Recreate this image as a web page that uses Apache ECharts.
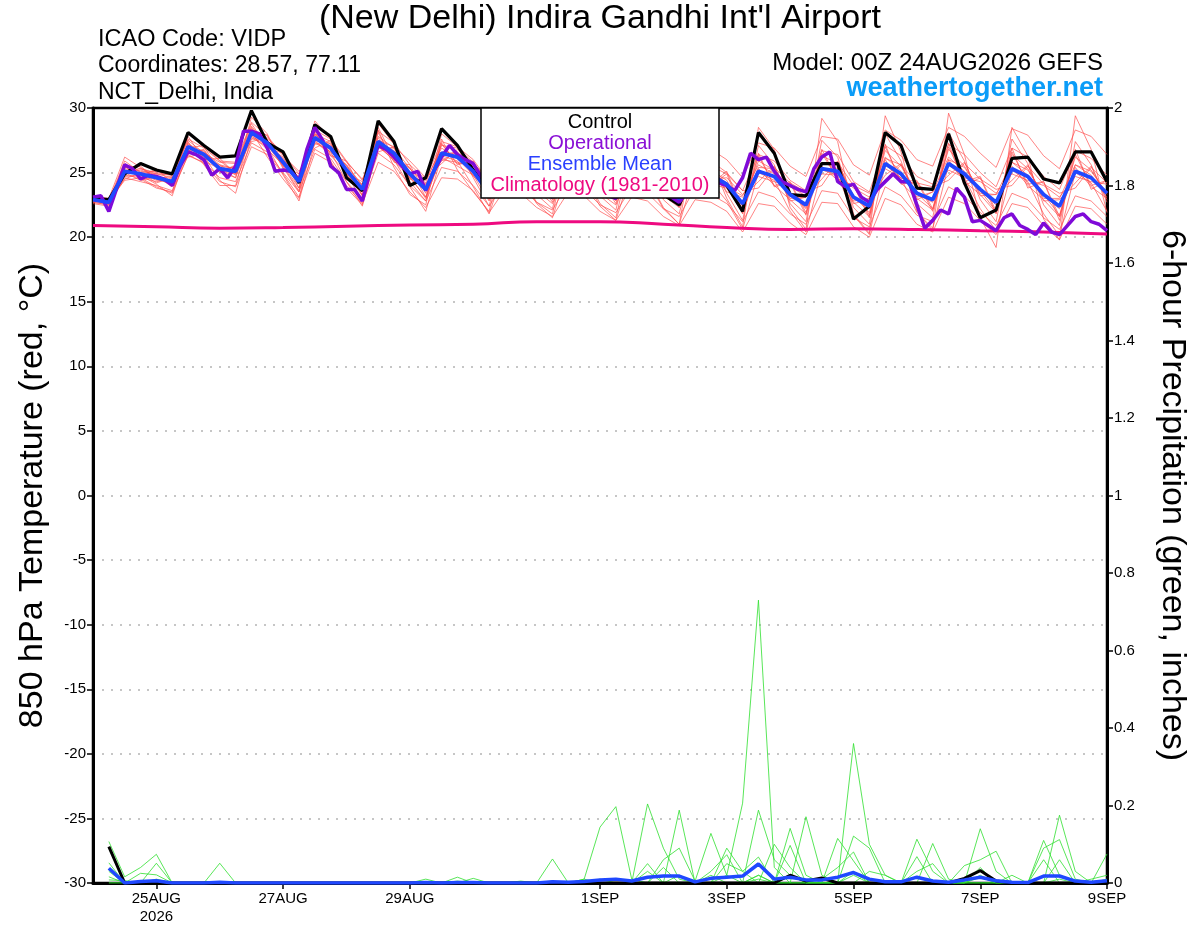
<!DOCTYPE html>
<html>
<head>
<meta charset="utf-8">
<script src="https://cdn.jsdelivr.net/npm/echarts@6/dist/echarts.min.js"></script>
<style>
html,body{margin:0;padding:0;background:#fff;}
#chart{width:1200px;height:927px;}
</style>
</head>
<body>
<div id="chart"></div>
<script>
// ---------- DATA ----------
const tickHours = [24, 72, 120, 192, 240, 288, 336, 384];
const tickLabels = ['25AUG\n2026', '27AUG', '29AUG', '1SEP', '3SEP', '5SEP', '7SEP', '9SEP'];

// 850 hPa temperature, 6-hourly from 24AUG 00Z
const controlTemp = [
23.0,22.9,24.9,25.7,25.2,24.9,28.1,27.1,26.2,26.3,
29.8,27.3,26.6,24.2,28.7,27.8,24.6,23.6,29.0,27.4,
24.0,24.6,28.4,27.1,25.2,23.6,25.8,25.0,23.8,23.2,
25.9,25.2,23.7,23.0,25.6,24.6,23.3,22.5,25.3,24.7,
24.0,22.0,28.1,26.5,23.3,23.2,25.7,25.7,21.4,22.4,
28.1,27.1,23.8,23.7,28.0,24.2,21.5,22.1,26.1,26.2,
24.5,24.2,26.6,26.6,24.3];
const meanTemp = [
22.9,22.7,25.1,24.9,24.6,24.3,27.0,26.4,25.3,25.1,
28.1,27.3,25.8,24.3,27.7,26.9,25.2,23.7,27.4,26.5,
24.9,23.7,26.5,26.2,25.1,23.4,25.5,25.0,23.9,23.3,
25.6,25.0,23.8,23.2,25.4,24.8,23.6,23.0,25.2,24.8,
24.1,22.6,25.1,24.7,23.3,22.5,25.3,25.1,23.1,22.4,
25.7,24.9,23.4,22.9,25.7,24.9,23.7,22.7,25.3,24.7,
23.3,22.4,25.1,24.6,23.4];
// operational run, 3-hourly
const operTemp = [
23.1,23.2,22.0,23.8,25.6,25.3,24.5,24.8,24.7,24.5,
24.0,25.5,26.6,26.4,26.0,24.8,25.3,24.6,25.5,28.2,
28.2,28.0,26.9,25.1,25.2,25.1,24.4,26.8,28.5,27.5,
25.5,25.0,23.7,23.7,22.8,25.1,27.1,26.8,26.2,25.5,
24.9,25.1,23.6,25.1,26.2,27.1,26.4,26.0,25.7,24.7,
24.5,25.2,26.0,25.6,25.0,24.4,23.8,23.4,23.1,24.0,
25.3,25.8,25.2,24.5,23.8,23.2,23.0,24.0,25.4,25.6,
25.0,24.3,23.6,23.1,22.7,23.5,24.6,25.0,24.6,24.2,
24.0,23.6,24.6,26.5,26.0,26.2,25.1,24.3,24.0,23.7,
23.5,25.3,26.2,26.6,24.3,23.9,24.1,23.1,22.7,23.7,
24.3,24.9,24.3,24.3,22.5,20.7,21.3,22.1,21.8,23.8,
23.1,21.2,21.3,20.9,20.5,21.5,21.8,20.9,20.6,20.2,
21.1,20.4,20.2,20.9,21.6,21.8,21.2,21.0,20.5];
// climatology, daily
const climTemp = [20.9,20.8,20.7,20.75,20.85,20.95,21.0,21.2,21.2,21.0,20.75,20.6,20.65,20.6,20.5,20.4,20.25];

// ensemble members, 6-hourly
const mem01 = [23.1,22.9,25.6,25.3,25.0,24.8,27.6,26.9,25.9,25.8,28.9,27.8,26.4,24.9,28.3,27.6,25.9,24.4,28.2,27.3,25.6,24.5,27.4,27.0,26.0,24.3,26.6,26.0,24.8,24.1,26.7,26.1,24.8,24.0,26.5,25.9,24.6,23.9,26.4,25.9,25.0,23.6,26.4,25.9,24.4,23.6,26.7,26.4,24.3,23.5,27.1,26.3,24.7,24.1,27.2,26.4,25.0,23.9,26.9,26.2,24.7,23.7,26.7,26.1,24.8];
const mem02 = [22.7,22.5,24.6,24.3,24.0,23.6,26.3,25.8,24.6,24.3,27.3,26.6,25.0,23.5,26.8,26.1,24.3,22.9,26.5,25.6,24.0,22.8,25.4,25.1,24.0,22.4,24.3,23.9,22.7,22.1,24.2,23.7,22.5,21.9,23.9,23.4,22.2,21.6,23.8,23.3,22.6,21.2,23.5,23.1,21.8,21.0,23.6,23.4,21.5,20.8,23.9,23.2,21.7,21.2,23.9,23.2,21.9,20.9,23.4,22.9,21.5,20.6,23.2,22.8,21.6];
const mem03 = [23.0,22.8,25.9,25.0,24.2,24.6,26.5,26.8,25.0,25.6,28.8,27.0,26.2,23.8,28.6,26.4,25.6,23.2,28.5,26.0,25.4,23.1,27.2,25.7,25.8,22.9,26.8,24.4,24.6,22.7,26.9,24.3,24.5,22.6,26.6,24.1,24.3,22.3,26.4,24.0,24.9,21.8,26.5,23.9,24.2,21.7,26.8,24.4,24.0,21.5,27.2,24.1,24.3,22.0,27.3,24.0,24.6,21.8,26.9,23.8,24.3,21.3,26.8,23.7,24.4];
const mem04 = [22.8,22.6,24.9,25.2,24.8,24.0,27.3,26.1,25.6,24.8,27.6,27.6,25.3,24.7,27.2,27.3,24.8,24.1,26.9,26.9,24.5,24.1,25.9,26.6,24.7,23.8,24.8,25.6,23.4,23.8,24.9,25.7,23.3,23.7,24.6,25.5,23.0,23.6,24.4,25.6,23.5,23.1,24.3,25.5,22.8,23.1,24.5,25.9,22.6,22.9,24.8,25.7,22.9,23.5,24.8,25.8,23.2,23.3,24.4,25.6,22.8,22.9,24.2,25.5,22.9];
const mem05 = [23.2,23.0,26.2,25.4,24.5,24.1,28.0,27.0,25.1,24.6,29.3,28.0,25.5,23.6,29.0,27.6,24.8,22.9,28.8,27.2,24.3,22.8,28.0,27.0,24.6,22.4,27.2,26.0,23.3,22.2,27.4,26.2,23.2,22.1,27.2,25.8,22.9,21.8,27.0,25.7,23.4,21.3,27.1,25.6,22.6,21.2,27.5,26.2,22.3,21.0,28.0,25.9,22.6,21.5,28.1,25.9,22.9,21.2,27.6,25.7,22.5,20.9,27.4,25.6,22.7];
const mem06 = [22.9,22.8,24.4,24.6,24.3,24.5,26.6,26.2,25.5,25.3,27.8,27.1,26.1,24.6,27.4,26.6,25.6,24.0,27.0,26.2,25.3,24.1,26.0,25.8,25.5,23.9,25.0,24.6,24.3,23.9,25.1,24.6,24.2,23.8,24.9,24.4,24.1,23.7,24.8,24.5,24.6,23.3,24.7,24.3,23.9,23.2,24.9,24.8,23.8,23.1,25.3,24.6,24.0,23.6,25.2,24.6,24.3,23.4,24.9,24.4,24.0,23.1,24.7,24.3,24.1];
const mem07 = [22.6,22.4,24.8,24.6,23.9,23.4,26.4,25.7,24.3,23.9,27.0,26.4,24.9,23.1,26.5,25.8,24.0,22.6,25.8,25.1,23.5,22.3,24.6,24.5,23.6,21.9,23.7,23.4,22.3,21.6,23.5,23.2,22.0,21.3,23.1,22.8,21.6,20.9,22.9,22.7,22.0,20.4,22.6,22.4,21.1,20.2,22.7,22.6,20.8,20.0,23.0,22.5,21.0,20.4,23.1,22.6,21.3,20.2,22.6,22.3,20.9,19.8,22.4,22.2,21.0];
const mem08 = [23.0,22.8,25.3,25.1,24.9,24.6,27.2,26.6,25.6,25.3,28.4,27.5,26.0,24.5,27.9,27.2,25.5,24.0,27.8,26.9,25.3,24.2,27.1,26.9,25.8,24.2,26.6,26.3,25.1,24.6,27.0,26.5,25.3,24.7,27.1,26.5,25.3,24.8,27.2,26.8,26.0,24.6,27.3,26.9,25.5,24.7,27.8,27.6,25.6,24.8,28.3,27.5,26.0,25.5,28.5,27.8,26.5,25.4,28.4,27.9,26.3,25.3,28.3,27.8,26.4];
const mem09 = [22.8,22.7,25.0,24.4,24.7,23.9,26.8,25.9,25.3,24.6,27.9,26.8,25.6,23.8,27.5,26.3,25.0,23.2,27.1,25.9,24.6,23.1,26.2,25.5,24.8,22.8,25.3,24.2,23.6,22.6,25.4,24.3,23.4,22.5,25.2,24.0,23.2,22.3,25.0,24.1,23.8,21.9,25.3,24.0,22.9,21.8,25.5,24.4,22.7,21.6,26.0,24.2,23.0,22.1,26.0,24.3,23.3,21.9,25.5,24.0,22.9,21.6,25.4,23.9,23.0];
const mem10 = [23.1,22.9,25.4,25.5,24.5,24.7,27.5,26.5,25.1,25.5,28.6,27.1,25.5,24.9,28.0,26.8,24.9,24.3,27.7,26.4,24.6,24.4,26.9,26.1,24.8,24.0,26.0,25.0,23.7,23.9,26.1,25.0,23.5,23.8,25.8,24.9,23.3,23.6,25.7,24.9,23.9,23.2,25.6,24.9,23.0,23.1,25.8,25.3,22.8,23.0,26.2,25.1,23.1,23.5,26.2,25.1,23.4,23.3,25.8,24.8,23.0,23.0,25.6,24.8,23.1];
const mem11 = [22.7,22.5,24.7,24.8,24.1,23.2,26.9,26.3,24.4,23.4,27.7,27.0,24.8,22.8,27.3,26.6,24.3,22.4,27.0,26.0,23.9,22.0,26.3,25.9,23.9,21.8,25.4,24.7,22.6,21.5,25.5,24.6,22.4,21.3,25.2,24.4,22.2,21.0,25.1,24.3,22.8,20.6,25.0,24.4,22.0,20.4,25.2,24.8,21.7,20.2,25.6,24.6,21.9,20.7,25.6,24.6,22.2,20.5,25.2,24.3,21.8,20.1,25.0,24.2,22.0];
const mem12 = [23.0,22.7,25.7,24.7,25.3,24.2,27.8,26.0,26.1,24.9,28.5,26.9,26.5,24.1,28.4,26.3,25.9,23.5,28.1,25.8,25.6,23.4,27.3,25.6,25.9,23.1,26.5,24.5,24.9,22.9,26.6,24.4,24.8,22.8,26.3,24.2,24.5,22.5,26.1,24.1,25.1,22.0,26.3,24.0,24.3,21.9,26.5,24.5,24.0,21.7,27.0,24.3,24.4,22.2,27.0,24.3,24.7,22.0,26.6,24.1,24.3,21.6,26.4,24.0,24.4];
const mem13 = [22.9,22.6,25.2,24.9,24.4,24.4,26.7,26.7,25.2,24.9,27.9,27.5,25.7,24.2,27.5,27.1,25.1,23.6,27.3,26.7,24.8,23.6,26.6,26.4,25.0,23.3,25.9,25.4,23.8,23.2,26.2,25.4,23.7,23.1,26.0,25.2,23.5,22.9,25.9,25.1,24.2,22.4,25.9,25.2,23.3,22.3,26.3,25.7,23.0,22.2,26.7,25.5,23.3,22.7,26.8,25.5,23.6,22.5,26.4,25.3,23.2,22.2,26.2,25.2,23.3];
const mem14 = [22.8,22.8,24.5,25.0,25.1,24.9,26.2,26.5,25.8,25.7,27.4,27.7,26.3,25.1,26.9,27.5,25.8,24.5,26.6,27.0,25.9,24.6,25.7,26.8,25.7,24.5,25.1,25.8,24.8,24.3,24.8,25.6,24.6,24.2,24.2,25.4,24.4,24.0,23.9,25.5,24.9,23.6,23.8,25.4,24.2,23.5,24.0,25.8,24.0,23.4,24.4,25.6,24.2,23.9,24.4,25.7,24.5,23.7,24.0,25.5,24.1,23.4,23.8,25.4,24.2];
const mem15 = [23.0,22.6,25.5,24.5,23.8,23.5,27.4,25.6,24.0,24.0,28.2,26.2,24.5,23.0,28.2,25.9,23.8,22.5,28.3,25.4,23.3,22.5,27.6,25.2,23.5,22.0,26.9,24.8,22.7,21.8,27.0,24.9,22.6,21.5,26.8,24.6,22.3,21.0,27.8,26.0,23.0,20.8,28.5,26.8,22.3,20.6,29.2,27.4,21.8,20.3,29.4,26.6,22.0,20.5,29.6,26.4,21.5,19.2,28.5,26.3,21.4,19.8,29.4,26.8,21.9];
const mem16 = [22.8,22.6,25.0,25.3,24.9,24.8,26.9,27.1,25.9,25.0,28.3,27.9,25.4,23.5,28.0,27.4,25.0,23.3,27.5,27.0,24.7,23.0,26.4,26.6,25.3,23.5,25.6,25.6,24.2,23.4,25.7,25.5,24.0,23.1,25.5,25.3,23.8,22.7,25.3,25.2,24.4,22.4,25.4,25.3,23.5,22.2,25.7,25.8,23.2,21.9,26.1,25.6,23.4,22.2,26.0,25.4,23.6,22.0,25.8,25.2,23.3,21.7,25.6,25.1,23.4];
const memberTemps = [mem01,mem02,mem03,mem04,mem05,mem06,mem07,mem08,mem09,mem10,mem11,mem12,mem13,mem14,mem15,mem16];

// 6-hour precipitation (inches), 6-hourly from 24AUG 06Z
const controlPrcp = [
0.094,0,0,0,0,0,0,0, 0,0,0,0,0,0,0,0, 0,0,0,0,0,0,0,0, 0,0,0,0,0,0,0,0,
0,0,0,0,0,0,0,0, 0,0,0,0.02,0.005,0.013,0,0, 0,0,0,0,0,0,0.012,0.032, 0.005,0,0,0,0,0,0,0];
const meanPrcp = [
0.038,0,0.004,0.006,0,0,0,0.002, 0,0,0,0,0,0,0,0, 0,0,0,0,0.001,0,0.001,0.001, 0,0,0,0,0.003,0.002,0.004,0.008,
0.01,0.005,0.015,0.018,0.018,0.003,0.012,0.015, 0.018,0.049,0.01,0.015,0.008,0.008,0.015,0.027, 0.01,0.003,0.003,0.015,0.005,0.002,0.008,0.015, 0.006,0.002,0.001,0.018,0.018,0.005,0.002,0.006];
const prc01 = [0.107,0.016,0.04,0.074,0,0,0,0, 0,0,0,0,0,0,0,0, 0,0,0,0,0,0,0,0, 0,0,0,0,0,0,0.01,0.144, 0.197,0.01,0,0,0,0,0,0, 0,0.01,0,0,0,0,0,0.02, 0,0,0,0,0,0,0,0.02, 0,0,0,0,0,0,0,0];
const prc02 = [0.052,0,0,0.051,0,0,0,0.051, 0,0,0,0,0,0,0,0, 0,0,0,0,0,0,0,0, 0,0,0,0,0.062,0,0,0, 0,0,0.204,0.09,0.01,0,0,0.02, 0.206,0.73,0.04,0,0,0,0,0.03, 0,0,0,0,0,0,0,0, 0,0,0,0,0.01,0,0,0];
const prc03 = [0.016,0,0.025,0.021,0,0,0,0, 0,0,0,0,0,0,0,0, 0,0,0,0,0,0,0.015,0, 0,0,0,0,0,0,0,0, 0,0,0,0,0.188,0,0.02,0, 0,0.188,0.06,0.02,0,0,0,0.36, 0.10,0.02,0,0,0,0,0,0.14, 0.03,0,0,0,0,0,0,0];
const prc04 = [0.008,0.006,0,0.01,0,0,0,0, 0,0,0,0,0,0,0,0, 0,0,0,0,0.01,0,0,0.012, 0,0,0,0,0,0,0,0, 0,0,0,0.06,0.09,0.005,0.128,0.02, 0,0,0,0,0.171,0.02,0,0, 0,0,0,0.113,0.03,0,0,0, 0,0,0,0,0.175,0.03,0,0];
const prc05 = [0.09,0,0,0,0,0,0,0, 0,0,0,0,0,0,0,0, 0,0,0,0,0,0,0,0, 0,0,0.005,0,0,0,0.01,0, 0,0,0.05,0,0,0,0,0.09, 0.03,0.067,0,0.141,0.02,0,0,0.121, 0.09,0,0,0,0.102,0.01,0,0, 0,0,0,0.11,0.02,0,0,0];
const prc06 = [0.03,0,0,0.005,0,0,0,0, 0,0,0,0,0,0,0,0, 0,0,0,0,0,0,0,0, 0,0,0,0,0,0,0,0.01, 0,0,0,0.04,0,0,0.03,0.073, 0,0.02,0,0.097,0,0,0.115,0.057, 0,0,0,0,0,0,0.045,0.06, 0.082,0,0,0.09,0.112,0.01,0,0.075];
const prc07 = [0,0,0,0,0,0,0,0, 0,0,0,0,0,0,0,0, 0,0,0,0,0,0,0.005,0, 0,0,0,0,0.005,0,0,0, 0,0,0,0,0,0,0,0.05, 0.03,0,0.1,0.04,0,0,0,0, 0.03,0.02,0,0.068,0,0,0,0.04, 0,0.02,0,0.06,0,0,0.01,0.02];
const prc08 = [0,0,0,0,0,0,0,0, 0,0,0,0,0,0,0,0, 0,0,0,0,0,0,0,0, 0,0,0,0,0,0,0,0, 0,0,0.03,0,0.02,0,0,0, 0,0.02,0,0,0,0.01,0.04,0.08, 0,0,0,0.03,0.05,0,0,0.015, 0,0,0,0,0.06,0,0,0.01];
const memberPrcp = [prc01,prc02,prc03,prc04,prc05,prc06,prc07,prc08];

// ---------- BUILD ----------
const FONT = '"Liberation Sans", Arial, Helvetica, sans-serif';
const pairs = (vals, step, offset) => vals.map((v, i) => [offset + i * step, v]);

const series = [];
memberTemps.forEach((m, k) => series.push({
  name: 'member' + (k + 1), type: 'line', data: pairs(m, 6, 0),
  xAxisIndex: 0, yAxisIndex: 0, symbol: 'none', silent: true,
  lineStyle: { color: '#ff4a4a', width: 0.8, opacity: 0.85 }, z: 2
}));
memberPrcp.forEach((m, k) => series.push({
  name: 'prcp' + (k + 1), type: 'line', data: pairs(m, 6, 6),
  xAxisIndex: 0, yAxisIndex: 1, symbol: 'none', silent: true,
  lineStyle: { color: '#2ee02e', width: 0.8 }, z: 2
}));
series.push({
  name: 'Climatology (1981-2010)', type: 'line', data: pairs(climTemp, 24, 0),
  yAxisIndex: 0, symbol: 'none', smooth: true,
  lineStyle: { color: '#ee0a80', width: 3 }, z: 4
});
series.push({
  name: 'Control precip', type: 'line', data: pairs(controlPrcp, 6, 6),
  yAxisIndex: 1, symbol: 'none', lineStyle: { color: '#000', width: 3 }, z: 5
});
series.push({
  name: 'Mean precip', type: 'line', data: pairs(meanPrcp, 6, 6),
  yAxisIndex: 1, symbol: 'none', lineStyle: { color: '#1f48ff', width: 3.5 }, z: 6
});
series.push({
  name: 'Control', type: 'line', data: pairs(controlTemp, 6, 0),
  yAxisIndex: 0, symbol: 'none', lineStyle: { color: '#000', width: 3.2 }, z: 5
});
series.push({
  name: 'Operational', type: 'line', data: pairs(operTemp, 3, 0),
  yAxisIndex: 0, symbol: 'none', lineStyle: { color: '#7f0ad8', width: 3.5 }, z: 6
});
series.push({
  name: 'Ensemble Mean', type: 'line', data: pairs(meanTemp, 6, 0),
  yAxisIndex: 0, symbol: 'none', lineStyle: { color: '#2048ff', width: 3.8 }, z: 7
});

const labelMap = {};
tickHours.forEach((h, i) => { labelMap[h] = tickLabels[i]; });

const legendItems = [
  { text: 'Control', color: '#000000', y: 122 },
  { text: 'Operational', color: '#8a10d6', y: 143 },
  { text: 'Ensemble Mean', color: '#2a40ff', y: 164 },
  { text: 'Climatology (1981-2010)', color: '#ee0a80', y: 185 }
];

const txt = (text, x, y, size, align, color, weight) => ({
  type: 'text', x: x, y: y, z: 50,
  style: { text: text, font: (weight || 'normal') + ' ' + size + 'px ' + FONT, fill: color || '#000',
    textAlign: align, textVerticalAlign: 'middle' }
});

const chart = echarts.init(document.getElementById('chart'), null, { renderer: 'canvas' });
chart.setOption({
  animation: false,
  backgroundColor: '#ffffff',
  textStyle: { fontFamily: FONT },
  grid: { left: 93, right: 93, top: 108, bottom: 44, show: true, borderColor: '#000', borderWidth: 2.5, backgroundColor: 'transparent' },
  xAxis: {
    type: 'value', min: 0, max: 384, interval: 24,
    axisLine: { show: true, onZero: false, lineStyle: { color: '#000', width: 3 } },
    axisTick: { show: true, customValues: tickHours, length: 6, lineStyle: { color: '#000', width: 1.5 } },
    axisLabel: { customValues: tickHours, color: '#000', fontSize: 15, fontFamily: FONT, margin: 7, lineHeight: 18,
      formatter: v => labelMap[v] || '' },
    splitLine: { show: false }
  },
  yAxis: [
    {
      type: 'value', min: -30, max: 30, interval: 5, position: 'left',
      name: '850 hPa Temperature (red, \u00B0C)', nameLocation: 'middle', nameGap: 43, nameRotate: 90,
      nameTextStyle: { fontSize: 34, color: '#000', fontFamily: FONT },
      axisLine: { show: true, onZero: false, lineStyle: { color: '#000', width: 3 } },
      axisTick: { show: true, inside: false, length: 6, lineStyle: { color: '#000', width: 1.5 } },
      axisLabel: { color: '#000', fontSize: 15, fontFamily: FONT, margin: 7 },
      splitLine: { show: true, showMinLine: false, showMaxLine: false, lineStyle: { color: '#b4b4b4', width: 1.5, type: [2, 7] } }
    },
    {
      type: 'value', min: 0, max: 2, interval: 0.2, position: 'right',
      name: '6-hour Precipitation (green, inches)', nameLocation: 'middle', nameGap: 48, nameRotate: -90,
      nameTextStyle: { fontSize: 34, color: '#000', fontFamily: FONT },
      axisLine: { show: true, onZero: false, lineStyle: { color: '#000', width: 3 } },
      axisTick: { show: true, inside: false, length: 6, lineStyle: { color: '#000', width: 1.5 } },
      axisLabel: { color: '#000', fontSize: 15, fontFamily: FONT, margin: 7 },
      splitLine: { show: false }
    }
  ],
  graphic: [
    txt("(New Delhi) Indira Gandhi Int'l Airport", 600, 19, 34, 'center'),
    txt('ICAO Code: VIDP', 98, 40, 23.5, 'left'),
    txt('Coordinates: 28.57, 77.11', 98, 66, 23, 'left'),
    txt('NCT_Delhi, India', 98, 93, 23, 'left'),
    txt('Model: 00Z 24AUG2026 GEFS', 1103, 63, 24, 'right'),
    txt('weathertogether.net', 1103, 89, 27, 'right', '#0a9cf8', 'bold'),
    { type: 'rect', shape: { x: 481, y: 108, width: 238, height: 90 }, style: { fill: '#fff', stroke: '#000', lineWidth: 1.5 }, z: 100 },
    ...legendItems.map(it => ({
      type: 'text', x: 600, y: it.y, z: 101,
      style: { text: it.text, font: '20px ' + FONT, fill: it.color, textAlign: 'center', textVerticalAlign: 'middle' }
    }))
  ],
  series: series
});
</script>
</body>
</html>
